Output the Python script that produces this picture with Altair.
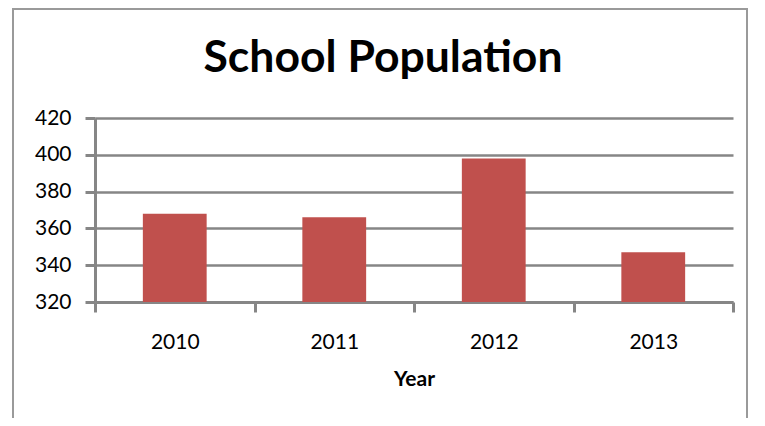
import altair as alt
import pandas as pd

years = ["2010", "2011", "2012", "2013"]
population = [368, 366, 398, 347]
y_ticks = [320, 340, 360, 380, 400, 420]

df = pd.DataFrame({"Year": years, "Population": population})

GRAY = "#868686"
FONT = "Lato"

bars = alt.Chart(df).mark_bar(
    color="#C0504D", width=alt.RelativeBandSize(0.4)
).encode(
    x=alt.X("Year:N", sort=years,
            scale=alt.Scale(paddingInner=0, paddingOuter=0),
            axis=alt.Axis(title="Year", labelAngle=0, tickBand="extent", grid=False,
                          labelPadding=19, titlePadding=16)),
    y=alt.Y("Population:Q",
            scale=alt.Scale(domain=[320, 420], nice=False, zero=False),
            axis=alt.Axis(title=None, values=y_ticks, grid=True, labelPadding=14)),
    y2=alt.datum(320),
)

frame = alt.Chart(pd.DataFrame({"a": [0]})).mark_rect(
    fill=None, stroke="#9a9a9a", strokeWidth=2
).encode(
    x=alt.value(-82), x2=alt.value(652), y=alt.value(-109), y2=alt.value(330)
)

chart = alt.layer(frame, bars).properties(
    width=638, height=184,
    title=alt.TitleParams("School Population", anchor="middle", dx=-31, dy=73, offset=0),
    autosize=alt.AutoSizeParams(type="none"),
    padding={"left": 87, "top": 110, "right": 16, "bottom": 116},
).configure_view(stroke=None).configure_axis(
    domainColor=GRAY, domainWidth=3, tickColor=GRAY, tickWidth=3, tickSize=10,
    gridColor=GRAY, gridWidth=2.5,
    labelFont=FONT, labelFontSize=21, labelColor="#000",
    titleFont=FONT, titleFontSize=21, titleFontWeight="bold", titleColor="#000",
).configure_title(
    font=FONT, fontSize=44.5, fontWeight="bold", color="#000"
)

chart.save("out.html", embed_options={"renderer": "svg", "actions": False})
